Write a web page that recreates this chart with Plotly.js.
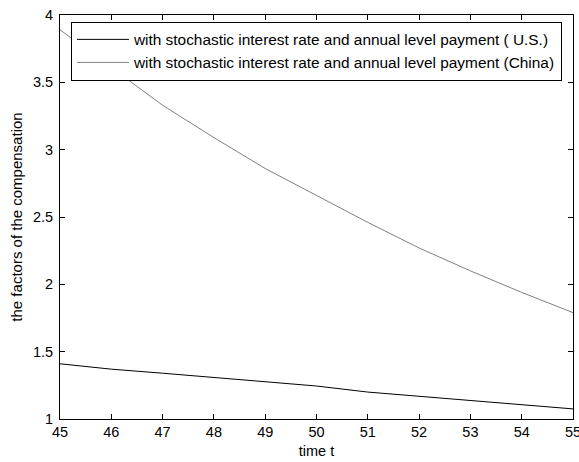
<!DOCTYPE html>
<html>
<head>
<meta charset="utf-8">
<script src="https://cdn.plot.ly/plotly-3.0.1.min.js"></script>
<style>html,body{margin:0;padding:0;background:#fff;}#chart{width:579px;height:462px;}</style>
</head>
<body>
<div id="chart"></div>
<script>
const timeT = [45, 46, 47, 48, 49, 50, 51, 52, 53, 54, 55];
const factorsUS = [1.41, 1.37, 1.34, 1.31, 1.28, 1.245, 1.20, 1.17, 1.14, 1.11, 1.075];
const factorsChina = [3.89, 3.61, 3.33, 3.09, 2.86, 2.66, 2.46, 2.27, 2.10, 1.94, 1.79];
const seriesNames = [
  "with stochastic interest rate and annual level payment ( U.S.)",
  "with stochastic interest rate and annual level payment (China)"
];
const xTicks = [45, 46, 47, 48, 49, 50, 51, 52, 53, 54, 55];
const yTicks = [1, 1.5, 2, 2.5, 3, 3.5, 4];

const font = {family: "Liberation Sans, Arial, sans-serif", size: 14.5, color: "#000"};

const traces = [
  {x: timeT, y: factorsUS, mode: "lines", name: seriesNames[0], line: {color: "#000000", width: 1}},
  {x: timeT, y: factorsChina, mode: "lines", name: seriesNames[1], line: {color: "#808080", width: 1}}
];

const axisBase = {
  showgrid: false, zeroline: false, showline: true, linecolor: "#000", linewidth: 1,
  mirror: "ticks", ticks: "inside", ticklen: 5, tickcolor: "#000", tickwidth: 1,
  tickfont: font, ticklabeloverflow: "allow"
};

const layout = {
  width: 579, height: 462,
  margin: {l: 60, r: 6, t: 15, b: 43},
  paper_bgcolor: "#fff", plot_bgcolor: "#fff",
  font: font,
  showlegend: true,
  legend: {
    x: 0.0214, y: 0.983, xanchor: "left", yanchor: "top",
    bgcolor: "#fff", bordercolor: "#000", borderwidth: 1,
    font: {family: "Liberation Sans, Arial, sans-serif", size: 15.4, color: "#000"},
    tracegroupgap: 0, itemwidth: 52
  },
  xaxis: Object.assign({}, axisBase, {
    range: [45, 55], tickvals: xTicks, ticktext: xTicks.map(String),
    title: {text: "time t", font: font, standoff: 6}
  }),
  yaxis: Object.assign({}, axisBase, {
    range: [1, 4], tickvals: yTicks, ticktext: yTicks.map(String), ticklabelstandoff: 3,
    title: {text: "the factors of the compensation", font: Object.assign({}, font, {size: 15}), standoff: 6}
  })
};

Plotly.newPlot("chart", traces, layout, {staticPlot: true, displayModeBar: false});
</script>
</body>
</html>
